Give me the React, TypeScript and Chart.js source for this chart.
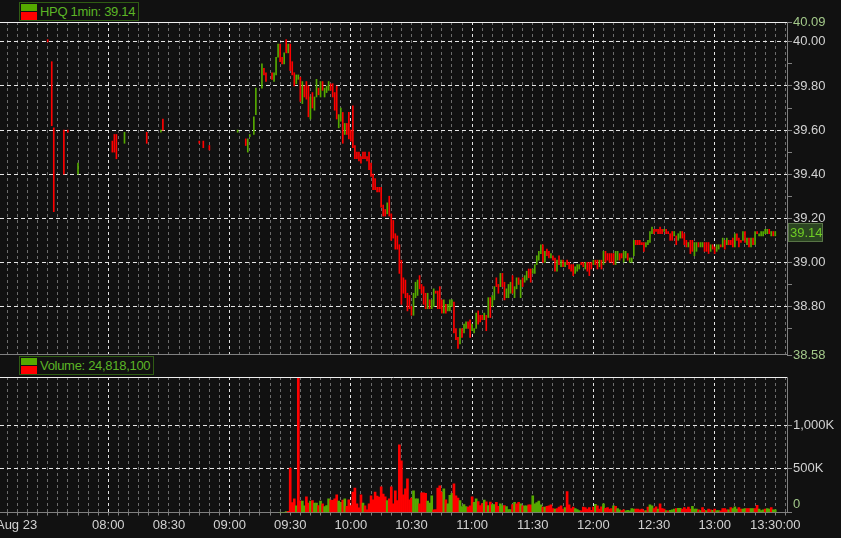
import React, { useEffect, useRef } from 'react';
import { Chart, registerables } from 'chart.js';

Chart.register(...registerables);

// ---------- data ----------
const symbol = 'HPQ';
const interval = '1min';
const lastPrice = 39.14;
const totalVolume = '24,818,100';
const dateLabel = 'Aug 23';

// sparse early-session bars (minute of day)
const preMinutes = [450, 452, 453, 458, 460, 465, 482, 483, 484, 488, 499, 506, 507, 525, 527, 530, 544, 548, 549, 550, 552, 553, 556, 557, 558, 561, 562, 563, 564];
const preLows = [40.0, 39.62, 39.23, 39.4, 39.59, 39.4, 39.5, 39.5, 39.47, 39.54, 39.54, 39.59, 39.6, 39.54, 39.52, 39.51, 39.59, 39.53, 39.5, 39.57, 39.58, 39.67, 39.79, 39.85, 39.82, 39.83, 39.82, 39.85, 39.93];
const preHighs = [40.01, 39.91, 39.61, 39.6, 39.6, 39.45, 39.55, 39.58, 39.58, 39.59, 39.59, 39.6, 39.65, 39.55, 39.55, 39.53, 39.6, 39.56, 39.56, 39.58, 39.66, 39.79, 39.9, 39.88, 39.86, 39.86, 39.86, 39.93, 39.99];
const preDirs = 'RRRRRGRRRGRGRRRRGRGGGGGRRRGGG';

// continuous bars, one per minute from 09:25 to 13:30
const sessionStartMinute = 565;
const barLows = [
  39.91, 39.9, 39.9, 39.95, 39.95,
  39.87, 39.85, 39.8, 39.81, 39.83, 39.73, 39.72, 39.75, 39.74, 39.66,
  39.65, 39.7, 39.69, 39.75, 39.76, 39.75, 39.78, 39.75, 39.77, 39.78,
  39.78, 39.75, 39.69, 39.65, 39.61, 39.64, 39.54, 39.58, 39.58, 39.56,
  39.55, 39.52, 39.47, 39.47, 39.46, 39.45, 39.47, 39.47, 39.46, 39.42,
  39.39, 39.33, 39.33, 39.32, 39.32, 39.25, 39.21, 39.21, 39.22, 39.21,
  39.1, 39.11, 39.06, 39.06, 38.95, 38.81, 38.86, 38.84, 38.78, 38.79,
  38.76, 38.76, 38.84, 38.85, 38.88, 38.86, 38.81, 38.79, 38.79, 38.79,
  38.79, 38.8, 38.86, 38.79, 38.79, 38.77, 38.77, 38.77, 38.78, 38.78,
  38.8, 38.68, 38.65, 38.61, 38.63, 38.66, 38.68, 38.7, 38.7, 38.66,
  38.69, 38.68, 38.7, 38.72, 38.73, 38.74, 38.74, 38.69, 38.75, 38.75,
  38.8, 38.83, 38.89, 38.86, 38.89, 38.89, 38.83, 38.84, 38.84, 38.86,
  38.86, 38.84, 38.88, 38.9, 38.84, 38.89, 38.91, 38.92, 38.93, 38.91,
  38.95, 38.95, 38.99, 39.01, 39.04, 39.0, 39.0, 39.03, 39.02, 39.02,
  39.01, 38.96, 38.96, 38.99, 38.98, 38.98, 38.98, 38.99, 38.97, 38.96,
  38.94, 38.95, 38.96, 38.97, 38.99, 38.98, 38.97, 38.96, 38.94, 38.97,
  38.99, 38.99, 38.97, 38.98, 38.97, 38.99, 39.0, 39.01, 39.0, 39.0,
  38.99, 38.99, 39.01, 39.01, 39.02, 39.0, 39.02, 39.01, 39.0, 39.0,
  39.03, 39.08, 39.08, 39.08, 39.08, 39.05, 39.07, 39.08, 39.09, 39.13,
  39.13, 39.14, 39.13, 39.13, 39.13, 39.14, 39.13, 39.13, 39.1, 39.1,
  39.12, 39.08, 39.1, 39.11, 39.11, 39.08, 39.07, 39.07, 39.04, 39.05,
  39.03, 39.05, 39.07, 39.07, 39.07, 39.05, 39.05, 39.04, 39.05, 39.06,
  39.04, 39.05, 39.06, 39.07, 39.07, 39.06, 39.08, 39.08, 39.08, 39.07,
  39.07, 39.1, 39.07, 39.09, 39.1, 39.09, 39.08, 39.07, 39.07, 39.08,
  39.08, 39.13, 39.12, 39.12, 39.12, 39.13, 39.13, 39.13, 39.12, 39.12,
  39.12,
];
const barHighs = [
  39.99, 39.93, 39.95, 40.01, 39.99,
  39.99, 39.91, 39.86, 39.85, 39.85, 39.84, 39.82, 39.8, 39.82, 39.8,
  39.75, 39.77, 39.75, 39.83, 39.79, 39.82, 39.82, 39.79, 39.8, 39.82,
  39.81, 39.81, 39.77, 39.8, 39.67, 39.7, 39.68, 39.63, 39.63, 39.68,
  39.6, 39.71, 39.53, 39.5, 39.5, 39.48, 39.5, 39.5, 39.48, 39.5,
  39.45, 39.4, 39.38, 39.34, 39.34, 39.34, 39.26, 39.24, 39.27, 39.3,
  39.22, 39.19, 39.13, 39.12, 39.08, 39.01, 38.93, 38.92, 38.86, 38.85,
  38.8, 38.86, 38.91, 38.92, 38.94, 38.9, 38.89, 38.86, 38.86, 38.83,
  38.83, 38.88, 38.87, 38.87, 38.89, 38.83, 38.83, 38.81, 38.81, 38.83,
  38.83, 38.82, 38.7, 38.66, 38.7, 38.7, 38.72, 38.73, 38.73, 38.74,
  38.72, 38.7, 38.77, 38.78, 38.76, 38.76, 38.77, 38.76, 38.84, 38.84,
  38.85, 38.89, 38.93, 38.9, 38.95, 38.95, 38.91, 38.88, 38.9, 38.91,
  38.94, 38.89, 38.93, 38.93, 38.92, 38.93, 38.94, 38.96, 38.97, 38.97,
  38.97, 38.99, 39.03, 39.05, 39.08, 39.08, 39.05, 39.06, 39.05, 39.04,
  39.03, 39.02, 39.01, 39.03, 39.01, 39.01, 39.0, 39.01, 39.0, 38.99,
  38.99, 38.98, 38.99, 38.99, 39.0, 39.0, 39.0, 39.0, 39.0, 39.0,
  39.01, 39.01, 39.01, 39.01, 39.01, 39.05, 39.05, 39.04, 39.04, 39.04,
  39.04, 39.05, 39.05, 39.04, 39.04, 39.05, 39.05, 39.04, 39.02, 39.02,
  39.1, 39.1, 39.1, 39.1, 39.09, 39.09, 39.09, 39.1, 39.14, 39.16,
  39.15, 39.15, 39.15, 39.16, 39.15, 39.15, 39.15, 39.14, 39.13, 39.14,
  39.14, 39.12, 39.13, 39.14, 39.14, 39.13, 39.1, 39.09, 39.1, 39.1,
  39.09, 39.09, 39.09, 39.09, 39.09, 39.09, 39.09, 39.09, 39.08, 39.08,
  39.07, 39.08, 39.08, 39.08, 39.11, 39.1, 39.11, 39.1, 39.1, 39.11,
  39.13, 39.13, 39.11, 39.1, 39.14, 39.14, 39.11, 39.11, 39.11, 39.11,
  39.14, 39.14, 39.13, 39.14, 39.14, 39.15, 39.15, 39.15, 39.14, 39.14,
  39.14,
];
const barDirs =
  'RRGRG' +
  'RRRGGRGRRR' + 'GRGGRGRGGG' + 'RRRRGGRGRR' + 'RRRRRRRRRR' + 'RRRRRRRRGR' +
  'RRRRRRRRRR' + 'RGGGRRRRGR' + 'GGRRRRGRGG' + 'GRRRGRGGRR' + 'GGGRRRGRGR' +
  'GGRRGRRGGG' + 'RGGRGRGGRR' + 'GGGGGRGRRG' + 'RRGRGRGRRR' + 'RGGGRRGRRR' +
  'GRRGRGRRRR' + 'RGGRRGGRGG' + 'GRRRRRGGGG' + 'RRRRRGRRRR' + 'GRGGRRRGRR' +
  'GGRGGRRRGR' + 'RGGRGRGRRR' + 'GRRRGRGRGR' + 'GRGGGGGRGRG';

// volume in thousands, same minutes as the continuous bars
const volumesK = [
  0, 0, 0, 10, 12,
  508, 114, 157, 77, 1700, 134, 130, 77, 180, 108,
  130, 137, 107, 107, 80, 130, 100, 68, 80, 157,
  142, 140, 157, 202, 130, 115, 142, 157, 72, 145,
  80, 233, 279, 100, 53, 202, 108, 77, 30, 100,
  191, 145, 233, 187, 175, 294, 210, 180, 137, 157,
  294, 100, 248, 137, 775, 592, 202, 271, 386, 145,
  164, 248, 157, 157, 100, 225, 225, 218, 130, 108,
  191, 30, 34, 279, 305, 233, 271, 145, 100, 195,
  218, 328, 191, 164, 137, 68, 92, 68, 61, 77,
  180, 115, 157, 126, 80, 103, 142, 122, 80, 118,
  92, 92, 115, 72, 100, 76, 80, 68, 34, 34,
  92, 115, 100, 115, 100, 77, 77, 77, 88, 88,
  191, 100, 114, 131, 88, 62, 62, 72, 77, 88,
  45, 38, 45, 62, 77, 38, 56, 240, 88, 45,
  62, 45, 34, 22, 19, 62, 56, 38, 56, 26,
  62, 93, 77, 38, 65, 100, 48, 56, 38, 45,
  77, 72, 45, 30, 22, 30, 19, 26, 19, 45,
  38, 38, 38, 30, 38, 19, 22, 62, 88, 77,
  45, 65, 38, 100, 45, 38, 22, 19, 26, 30,
  38, 45, 48, 48, 38, 56, 38, 62, 38, 72,
  38, 38, 30, 22, 56, 26, 22, 38, 30, 26,
  38, 22, 22, 19, 45, 45, 30, 30, 56, 45,
  65, 38, 56, 38, 38, 45, 45, 45, 45, 45,
  45, 83, 38, 22, 30, 38, 45, 38, 56, 30, 30,
];
const volDirs =
  'GGGGR' +
  'RRRGRRGGRR' + 'GRGGRGRGGG' + 'RRRRGGRGRR' + 'RRRRRRGRRR' + 'RRRRRRRRGR' +
  'RRRRRRRRRR' + 'RGGGRRRRGG' + 'GRRRRRGRGG' + 'GRRRGGGGRR' + 'RGGRRRGRGR' +
  'GGRRGGRGGG' + 'RGRRGRGGRR' + 'GGGGGRGRRR' + 'RGRRRRGRRR' + 'RGGGRRRRRR' +
  'RGRRRGRRRR' + 'GRGGRRGGGG' + 'GRRRRRGRGG' + 'RRGRRRGRGG' + 'GRGGRRRRRG' +
  'GGRGRRGRRG' + 'RGGRRRRGRG' + 'GGRRGGRRGG' + 'RRGGGRGGRGG';

// axes
const priceMin = 38.58;
const priceMax = 40.09;
const priceTicks = [38.58, 38.7, 38.8, 38.9, 39.0, 39.1, 39.2, 39.3, 39.4, 39.5, 39.6, 39.7, 39.8, 39.9, 40.0, 40.09];
const volumeMax = 1550000;
const volumeTicks = [0, 500000, 1000000];
const timeMin = 426.4;
const timeMax = 815.8;
const gridStartMinute = 430;
const gridStepMinutes = 5;
const timeLabelMinutes = [480, 510, 540, 570, 600, 630, 660, 690, 720, 750, 780, 810];
const dateLabelMinute = 434.6;

// ---------- styles ----------
const UP = '#55aa00';
const DOWN = '#ff0000';
const BG = '#111111';
const GRID_MAJOR = '#e6e6e6';
const GRID_MINOR = '#6c6c6c';
const AXIS = '#808080';
const LABEL = '#d2d2d2';
const LABEL_GREEN = '#a3c98a';
const FONT = { family: "'Liberation Sans', Arial, sans-serif", size: 13 };

const pad2 = (n: number) => String(n).padStart(2, '0');
const fmtTime = (m: number) => `${pad2(Math.floor(m / 60))}:${pad2(m % 60)}`;

function timeAxis(withLabels: boolean): any {
  return {
    type: 'linear',
    min: timeMin,
    max: timeMax,
    offset: false,
    afterBuildTicks: (s: any) => {
      const t: any[] = [];
      if (withLabels) t.push({ value: dateLabelMinute });
      for (let m = gridStartMinute; m <= timeMax; m += gridStepMinutes) t.push({ value: m });
      s.ticks = t;
    },
    afterFit: (s: any) => {
      s.height = withLabels ? 25.5 : 0;
      s.paddingLeft = 0;
      s.paddingRight = 0;
    },
    grid: {
      offset: false,
      drawTicks: withLabels,
      tickLength: 3,
      color: (c: any) => {
        const v = c.tick ? c.tick.value : 0;
        if (v === dateLabelMinute) return 'rgba(0,0,0,0)';
        return v % 60 === 0 ? GRID_MAJOR : GRID_MINOR;
      },
      tickColor: (c: any) => (c.tick && c.tick.value === dateLabelMinute ? 'rgba(0,0,0,0)' : AXIS),
    },
    border: { display: withLabels, color: AXIS, dash: [3, 3] },
    ticks: {
      display: withLabels,
      autoSkip: false,
      maxRotation: 0,
      minRotation: 0,
      padding: 2,
      color: LABEL,
      font: FONT,
      callback: (v: number) => {
        if (v === dateLabelMinute) return dateLabel;
        if (timeLabelMinutes.includes(v)) return v === timeLabelMinutes[timeLabelMinutes.length - 1] ? fmtTime(v) + ':00' : fmtTime(v);
        return '';
      },
    },
  };
}

const isEdge = (v: number) => Math.abs(v - priceMin) < 1e-6 || Math.abs(v - priceMax) < 1e-6;
const isMajorPrice = (v: number) => Math.round(v * 100) % 20 === 0;

const framePlugin = (bottomLine: boolean) => ({
  id: 'frame',
  afterDraw(chart: any) {
    const { ctx, chartArea } = chart;
    ctx.save();
    ctx.lineWidth = 1;
    ctx.strokeStyle = '#f0f0f0';
    ctx.beginPath();
    ctx.moveTo(0, chartArea.top + 0.5);
    ctx.lineTo(chartArea.right, chartArea.top + 0.5);
    ctx.stroke();
    if (bottomLine) {
      ctx.strokeStyle = AXIS;
      ctx.beginPath();
      ctx.moveTo(0, chartArea.bottom - 0.5);
      ctx.lineTo(chartArea.right, chartArea.bottom - 0.5);
      ctx.stroke();
    }
    ctx.restore();
  },
});

const priceMarkerPlugin = {
  id: 'priceMarker',
  afterDraw(chart: any) {
    const { ctx, chartArea } = chart;
    const y = Math.round(chart.scales.y.getPixelForValue(lastPrice));
    const x = Math.round(chartArea.right) + 1;
    ctx.save();
    ctx.fillStyle = '#2b4521';
    ctx.fillRect(x, y - 9, 35, 19);
    ctx.strokeStyle = '#587446';
    ctx.lineWidth = 1;
    ctx.strokeRect(x + 0.5, y - 8.5, 34, 18);
    ctx.fillStyle = '#6fcc25';
    ctx.font = `13px ${FONT.family}`;
    ctx.textBaseline = 'middle';
    ctx.textAlign = 'left';
    ctx.fillText(lastPrice.toFixed(2), x + 2, y + 1);
    ctx.restore();
  },
};

function Legend({ top, text }: { top: number; text: string }) {
  return (
    <div
      style={{
        position: 'absolute',
        left: 19,
        top,
        height: 19,
        boxSizing: 'border-box',
        border: '1px solid #2f5c14',
        background: BG,
        display: 'flex',
        alignItems: 'center',
        paddingRight: 3,
      }}
    >
      <div style={{ display: 'flex', flexDirection: 'column', marginLeft: 1, marginRight: 3 }}>
        <div style={{ width: 16, height: 7, background: UP, marginBottom: 1 }} />
        <div style={{ width: 16, height: 8, background: DOWN }} />
      </div>
      <span
        style={{
          color: '#5cb526',
          fontFamily: FONT.family,
          fontSize: 13,
          letterSpacing: '-0.3px',
          lineHeight: '17px',
          whiteSpace: 'nowrap',
        }}
      >
        {text}
      </span>
    </div>
  );
}

export default function App() {
  const priceRef = useRef<HTMLCanvasElement>(null);
  const volRef = useRef<HTMLCanvasElement>(null);

  useEffect(() => {
    const priceBars: any[] = [];
    const priceColors: string[] = [];
    preMinutes.forEach((m, i) => {
      priceBars.push({ x: m, y: [preLows[i], preHighs[i]] });
      priceColors.push(preDirs[i] === 'G' ? UP : DOWN);
    });
    barLows.forEach((lo, i) => {
      priceBars.push({ x: sessionStartMinute + i, y: [lo, barHighs[i]] });
      priceColors.push(barDirs[i] === 'G' ? UP : DOWN);
    });

    const volBars = volumesK.map((v, i) => ({ x: sessionStartMinute + i, y: v * 1000 }));
    const volColors = volumesK.map((_, i) => (volDirs[i] === 'G' ? UP : DOWN));

    const priceChart = new Chart(priceRef.current as HTMLCanvasElement, {
      type: 'bar',
      data: {
        datasets: [
          {
            data: priceBars,
            backgroundColor: priceColors,
            borderWidth: 0,
            barThickness: 1,
            grouped: false,
          } as any,
        ],
      },
      options: {
        responsive: false,
        animation: false,
        devicePixelRatio: 1,
        events: [],
        layout: { padding: { top: 22, left: 0, right: 0, bottom: 10 } },
        plugins: { legend: { display: false }, tooltip: { enabled: false } },
        scales: {
          x: timeAxis(false),
          y: {
            type: 'linear',
            position: 'right',
            min: priceMin,
            max: priceMax,
            afterBuildTicks: (s: any) => {
              s.ticks = priceTicks.map((v) => ({ value: v }));
            },
            afterFit: (s: any) => {
              s.width = 54;
              s.paddingTop = 0;
              s.paddingBottom = 0;
            },
            grid: {
              color: (c: any) => (c.tick && !isEdge(c.tick.value) && isMajorPrice(c.tick.value) ? GRID_MAJOR : 'rgba(0,0,0,0)'),
              tickLength: 5,
              tickColor: AXIS,
            },
            border: { display: true, color: AXIS, dash: [4, 3] },
            ticks: {
              padding: 1,
              font: FONT,
              color: (c: any) => (c.tick && isEdge(c.tick.value) ? LABEL_GREEN : LABEL),
              callback: (v: number) => (isEdge(v) || isMajorPrice(v) ? v.toFixed(2) : ''),
            },
          },
        } as any,
      },
      plugins: [framePlugin(true), priceMarkerPlugin],
    });

    const volChart = new Chart(volRef.current as HTMLCanvasElement, {
      type: 'bar',
      data: {
        datasets: [
          {
            data: volBars,
            backgroundColor: volColors,
            borderWidth: 0,
            barThickness: 2,
            grouped: false,
          } as any,
        ],
      },
      options: {
        responsive: false,
        animation: false,
        devicePixelRatio: 1,
        events: [],
        layout: { padding: { top: 22, left: 0, right: 0, bottom: 0 } },
        plugins: { legend: { display: false }, tooltip: { enabled: false } },
        scales: {
          x: timeAxis(true),
          y: {
            type: 'linear',
            position: 'right',
            min: 0,
            max: volumeMax,
            afterBuildTicks: (s: any) => {
              s.ticks = volumeTicks.map((v) => ({ value: v }));
            },
            afterFit: (s: any) => {
              s.width = 54;
              s.paddingTop = 0;
              s.paddingBottom = 0;
            },
            grid: {
              color: (c: any) => (c.tick && c.tick.value !== 0 ? GRID_MAJOR : 'rgba(0,0,0,0)'),
              tickLength: 5,
              tickColor: AXIS,
            },
            border: { display: true, color: AXIS, dash: [4, 3] },
            ticks: {
              padding: 1,
              font: FONT,
              color: (c: any) => (c.tick && c.tick.value === 0 ? LABEL_GREEN : LABEL),
              callback: (v: number) => (v === 0 ? ['0', ''] : (v / 1000).toLocaleString('en-US') + 'K'),
            },
          },
        } as any,
      },
      plugins: [framePlugin(false)],
    });

    return () => {
      priceChart.destroy();
      volChart.destroy();
    };
  }, []);

  return (
    <div
      style={{
        position: 'fixed',
        left: 0,
        top: 0,
        width: 841,
        height: 538,
        background: BG,
        overflow: 'hidden',
      }}
    >
      <canvas ref={priceRef} width={841} height={365} style={{ position: 'absolute', left: 0, top: 0 }} />
      <canvas ref={volRef} width={841} height={183} style={{ position: 'absolute', left: 0, top: 355 }} />
      <Legend top={2} text={`${symbol} ${interval}: ${lastPrice.toFixed(2)}`} />
      <Legend top={356} text={`Volume: ${totalVolume}`} />
    </div>
  );
}
